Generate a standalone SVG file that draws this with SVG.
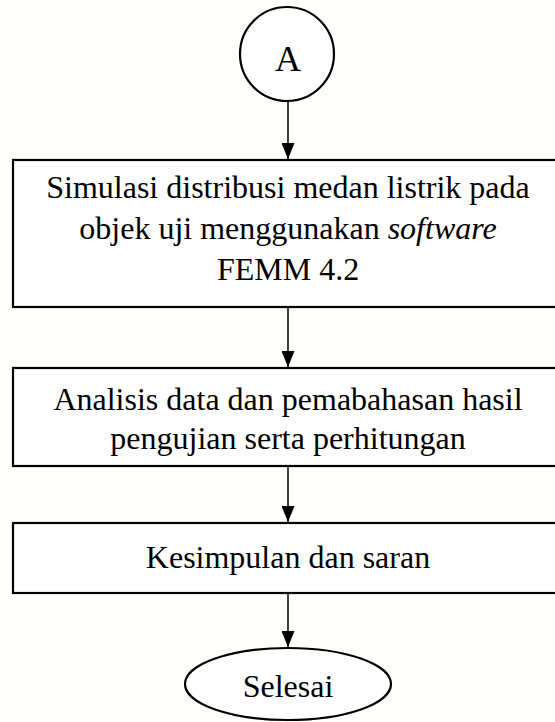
<svg xmlns="http://www.w3.org/2000/svg" width="555" height="722" viewBox="0 0 555 722">
<style>
.shape{fill:#ffffff;stroke:#000;stroke-width:2.2}
.t{font-family:"Liberation Serif","Times New Roman",serif;font-size:32px;fill:#000;text-anchor:middle}
.c{stroke:#000;stroke-width:1.5;fill:none}
</style>
<defs>
<marker id="ah" markerWidth="16" markerHeight="13" refX="16" refY="6.5" orient="auto" markerUnits="userSpaceOnUse" viewBox="0 0 16 13">
<path d="M0,0 L16,6.5 L0,13 Z" fill="#000"/>
</marker>
</defs>
<rect width="555" height="722" fill="#fffffc"/>
<g id="connectors">
<line class="c" x1="288" y1="101" x2="288" y2="159" marker-end="url(#ah)"/>
<line class="c" x1="288" y1="307" x2="288" y2="367" marker-end="url(#ah)"/>
<line class="c" x1="288" y1="466" x2="288" y2="522" marker-end="url(#ah)"/>
<line class="c" x1="288" y1="593" x2="288" y2="647" marker-end="url(#ah)"/>
</g>
<g id="nodeA">
<circle class="shape" cx="287" cy="54" r="47"/>
<text class="t" x="288" y="71" style="font-size:36px">A</text>
</g>
<g id="node1">
<rect class="shape" x="13" y="160" width="560" height="147"/>
<text class="t" x="288" y="198">Simulasi distribusi medan listrik pada</text>
<text class="t" x="288" y="239">objek uji menggunakan <tspan font-style="italic">software</tspan></text>
<text class="t" x="288" y="280">FEMM 4.2</text>
</g>
<g id="node2">
<rect class="shape" x="13" y="368" width="560" height="98"/>
<text class="t" x="288" y="410">Analisis data dan pemabahasan hasil</text>
<text class="t" x="288" y="449">pengujian serta perhitungan</text>
</g>
<g id="node3">
<rect class="shape" x="13" y="523" width="560" height="70"/>
<text class="t" x="288" y="568">Kesimpulan dan saran</text>
</g>
<g id="nodeEnd">
<ellipse class="shape" cx="288" cy="684" rx="103" ry="36"/>
<text class="t" x="288" y="697">Selesai</text>
</g>
</svg>
